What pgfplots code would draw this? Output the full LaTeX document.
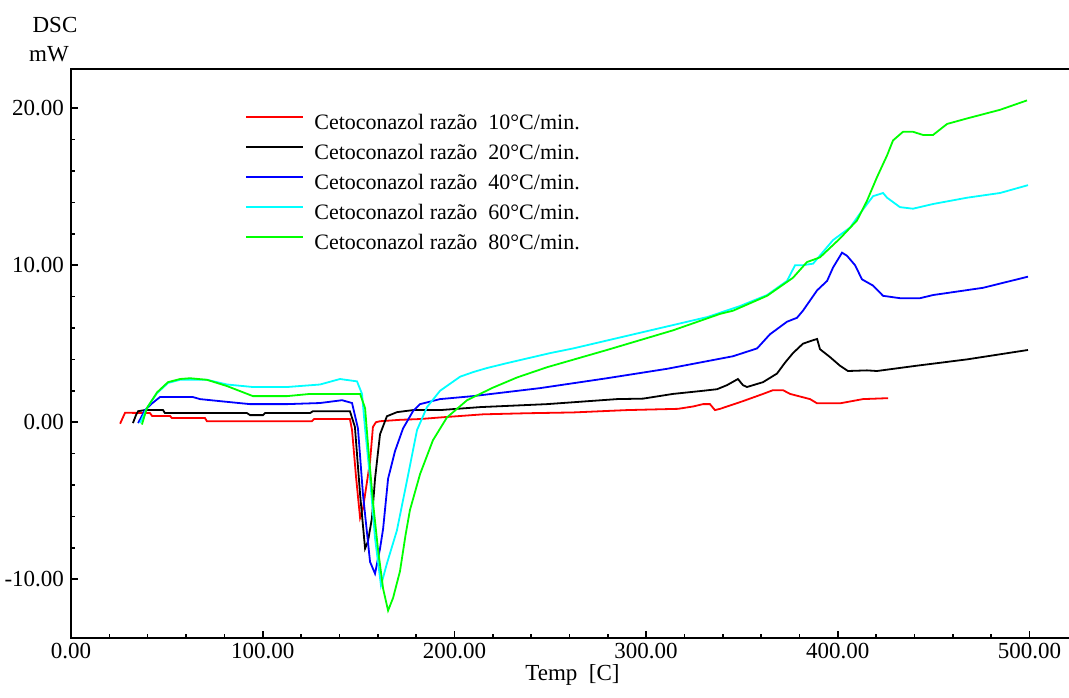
\documentclass[border=0pt]{standalone}
\usepackage{pgfplots}
\pgfplotsset{compat=1.18}
\usepackage{pgfplotstable}
\usepackage{fontspec}
\setmainfont{Liberation Serif}
\definecolor{cRed}{RGB}{255,0,0}
\definecolor{cBlack}{RGB}{0,0,0}
\definecolor{cBlue}{RGB}{0,0,255}
\definecolor{cCyan}{RGB}{0,255,255}
\definecolor{cGreen}{RGB}{0,255,0}

\pgfplotstableread{
T v
25.6 -0.1
28.2 0.6
41.2 0.58
42.3 0.4
51.6 0.4
52.7 0.26
69.9 0.26
70.9 0.06
125.7 0.06
126.8 0.2
145.5 0.2
146.6 -0.5
148.7 -3.5
150.8 -6.1
152.3 -5.5
154.4 -3.8
156.0 -2.5
157.5 -0.3
159.1 0.0
161.2 0.06
171.6 0.15
182.0 0.2
192.5 0.3
214.9 0.5
237.9 0.57
261.9 0.62
290.0 0.77
316.6 0.85
324.5 1.0
329.7 1.15
333.3 1.15
335.9 0.77
338.6 0.85
350.5 1.34
361.0 1.8
366.2 2.04
371.4 2.04
375.1 1.8
385.5 1.47
389.2 1.2
401.1 1.2
413.1 1.47
426.2 1.53
}\tabRed

\pgfplotstableread{
T v
32.3 -0.06
33.9 0.45
35.0 0.7
38.6 0.77
48.0 0.77
49.0 0.58
91.8 0.58
93.4 0.45
100.2 0.45
101.2 0.58
124.7 0.58
126.2 0.7
145.5 0.7
148.1 -0.3
150.8 -4.6
153.4 -8.05
154.9 -7.6
157.0 -6.1
158.6 -3.6
161.2 -0.77
164.8 0.38
170.1 0.64
178.4 0.77
192.5 0.77
213.4 0.96
248.3 1.15
284.8 1.47
298.4 1.5
314.0 1.8
329.7 2.0
337.0 2.1
342.2 2.36
347.9 2.75
350.5 2.36
352.6 2.24
361.0 2.55
368.3 3.1
372.5 3.8
376.6 4.4
381.8 5.0
386.5 5.2
389.2 5.3
390.7 4.65
395.9 4.15
401.1 3.6
405.3 3.26
415.2 3.3
420.4 3.26
441.3 3.6
467.4 4.0
499.2 4.6
}\tabBlack

\pgfplotstableread{
T v
35.0 -0.06
38.6 0.77
42.3 1.2
46.4 1.6
63.6 1.6
67.3 1.47
77.7 1.34
93.4 1.15
112.7 1.15
129.9 1.22
141.4 1.4
146.6 1.22
149.7 -0.4
152.3 -4.6
156.0 -8.9
158.6 -9.65
161.2 -8.05
162.8 -6.8
165.4 -3.6
169.0 -1.85
173.2 -0.4
178.4 0.7
182.1 1.15
192.5 1.47
209.7 1.66
244.7 2.17
279.6 2.8
310.9 3.4
345.3 4.2
357.9 4.7
364.6 5.6
373.5 6.4
378.7 6.65
381.8 7.1
389.2 8.4
394.4 9.0
397.5 9.85
402.2 10.8
404.8 10.6
409.0 10.0
412.6 9.1
418.4 8.7
423.6 8.05
432.4 7.9
442.9 7.9
449.7 8.1
475.7 8.56
499.2 9.27
}\tabBlue

\pgfplotstableread{
T v
36.0 -0.06
39.6 0.9
44.9 1.85
50.6 2.5
56.9 2.7
70.9 2.7
81.4 2.4
94.9 2.24
112.7 2.24
129.9 2.4
140.3 2.75
149.2 2.6
151.8 1.8
153.4 -0.4
156.0 -3.6
158.6 -7.4
161.7 -10.4
164.8 -9.0
170.0 -6.9
175.3 -3.7
180.5 -0.5
185.7 0.96
192.5 2.0
203.0 2.9
210.0 3.2
217.0 3.45
227.0 3.75
249.9 4.4
262.0 4.7
297.0 5.7
332.0 6.7
349.0 7.4
363.1 8.1
373.5 9.0
377.7 10.0
381.8 10.0
387.1 10.1
397.5 11.6
406.4 12.4
411.6 13.3
418.4 14.4
423.6 14.6
425.7 14.3
432.4 13.7
439.2 13.6
449.7 13.9
467.4 14.3
484.6 14.6
499.2 15.1
}\tabCyan

\pgfplotstableread{
T v
37.0 -0.15
39.6 0.9
44.9 1.9
50.6 2.55
56.9 2.75
62.1 2.8
70.9 2.7
81.4 2.3
94.9 1.66
112.7 1.66
124.7 1.8
150.8 1.8
153.4 0.9
154.9 -1.4
157.5 -5.05
160.1 -8.05
162.8 -10.6
165.4 -12.0
168.0 -11.2
171.6 -9.5
174.5 -7.2
176.8 -5.6
182.1 -3.3
188.8 -1.15
196.1 0.3
206.6 1.4
220.1 2.2
232.7 2.85
248.3 3.5
279.6 4.6
314.0 5.85
338.6 6.9
345.3 7.1
363.1 8.05
376.6 9.2
383.9 10.2
390.7 10.5
401.1 11.7
410.0 12.85
415.2 14.1
420.4 15.6
425.7 17.0
428.8 17.95
434.0 18.5
439.2 18.5
444.4 18.3
449.7 18.3
457.0 19.0
467.4 19.35
484.6 19.9
498.7 20.5
}\tabGreen

\begin{document}
\begin{tikzpicture}
\begin{axis}[
  at={(0,0)}, anchor=south west,
  scale only axis,
  width=499pt, height=284.5pt,
  xmin=0, xmax=520.6,
  ymin=-13.75, ymax=22.5,
  xtick={0,100,200,300,400,500},
  ytick={-10,0,10,20},
  minor x tick num=4,
  minor y tick num=4,
  tick align=inside,
  xtick pos=bottom, ytick pos=left,
  major tick length=3.5pt,
  minor tick length=2pt,
  tick style={black, line width=0.8pt},
  axis line style={draw=none},
  ticklabel style={font=\fontsize{11.5}{13}\selectfont},
  xticklabel style={yshift=1pt},
  /pgf/number format/.cd, fixed, fixed zerofill, precision=2, assume math mode=true,
  /pgfplots/.cd,
  clip=false,
  legend cell align=left,
  legend image post style={xscale=1.675, yshift=4pt},
  legend style={at={(0.1743,0.929)}, anchor=north west, draw=none, fill=none,
    inner sep=0pt, row sep=0pt, column sep=5pt,
    font=\fontsize{11}{13}\selectfont,
    nodes={inner sep=0pt, text height=10pt, text depth=5pt}},
]
\addplot[cRed, line width=0.9pt, no marks] table[x=T,y=v] {\tabRed};
\addlegendentry{Cetoconazol razão\ \ 10°C/min.}
\addplot[cBlack, line width=0.9pt, no marks] table[x=T,y=v] {\tabBlack};
\addlegendentry{Cetoconazol razão\ \ 20°C/min.}
\addplot[cBlue, line width=0.9pt, no marks] table[x=T,y=v] {\tabBlue};
\addlegendentry{Cetoconazol razão\ \ 40°C/min.}
\addplot[cCyan, line width=0.9pt, no marks] table[x=T,y=v] {\tabCyan};
\addlegendentry{Cetoconazol razão\ \ 60°C/min.}
\addplot[cGreen, line width=0.9pt, no marks] table[x=T,y=v] {\tabGreen};
\addlegendentry{Cetoconazol razão\ \ 80°C/min.}
\draw[line width=1pt] (rel axis cs:1,0) -- (rel axis cs:0,0) -- (rel axis cs:0,1) -- (rel axis cs:1,1);
\end{axis}
\node[anchor=base, font=\fontsize{11.5}{13}\selectfont, inner sep=0pt] at (-8pt,302.5pt) {DSC};
\node[anchor=base, font=\fontsize{11.5}{13}\selectfont, inner sep=0pt] at (-11pt,288pt) {mW};
\node[anchor=base, font=\fontsize{11.5}{13}\selectfont, inner sep=0pt] at (250.75pt,-21pt) {Temp\ \ [C]};
\pgfresetboundingbox
\path[use as bounding box] (-35.5pt,-29.5pt) rectangle (499pt,319pt);
\end{tikzpicture}
\end{document}
